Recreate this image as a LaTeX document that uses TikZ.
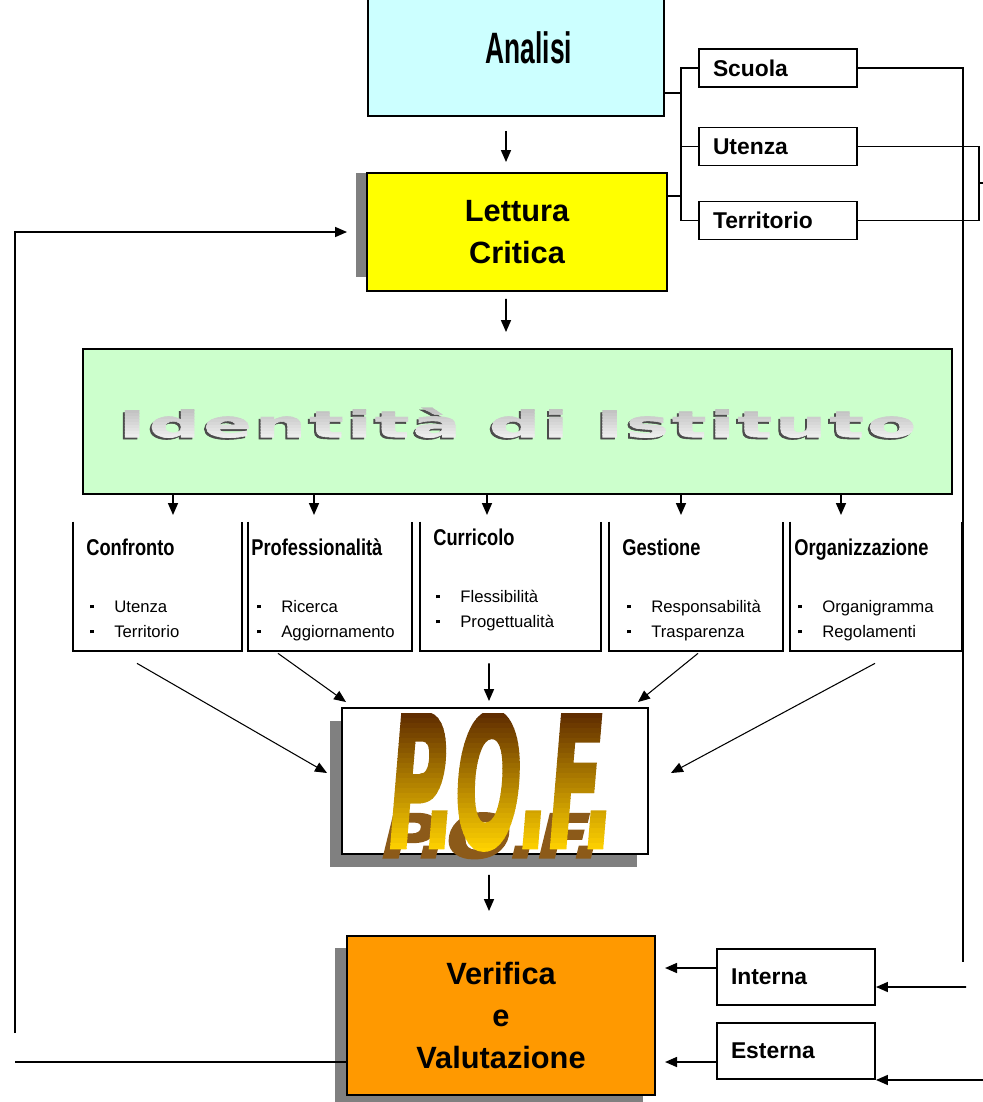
\documentclass[tikz,border=0pt]{standalone}
\usepackage{fontspec}
\setmainfont{Liberation Sans}
\newfontfamily\narrowfont{Liberation Sans}[FakeStretch=0.6]
\newfontfamily\titlefont{Liberation Sans}[FakeStretch=0.8]
\newfontfamily\widefont{DejaVu Sans}[LetterSpace=5, FakeBold=1.5]
\newfontfamily\poffont{DejaVu Sans}[FakeBold=2.5]
\usepackage{graphicx}
\usetikzlibrary{positioning}
\usetikzlibrary{arrows.meta}

\definecolor{analisiblu}{RGB}{204,255,255}
\definecolor{letturagiallo}{RGB}{255,255,0}
\definecolor{identverde}{RGB}{204,255,204}
\definecolor{verificaarancio}{RGB}{255,153,0}
\definecolor{ombra}{RGB}{128,128,128}
\definecolor{pofscuro}{RGB}{96,45,0}
\definecolor{pofchiaro}{RGB}{255,210,0}
\definecolor{pofriflesso}{RGB}{140,90,25}

\newcommand{\itm}{\makebox[4.8mm][l]{\rule[2pt]{1.8pt}{1.8pt}}}
\newcommand{\idtext}{\resizebox{159.4mm}{5.8mm}{\widefont\bfseries Identità di Istituto}}
\newcommand{\poftext}{\poffont\bfseries\itshape P.O.F.}

\tikzset{
  linea/.style={line width=0.9pt},
  freccia/.style={linea, ->},
  diagonale/.style={line width=0.6pt, ->},
  bordo/.style={draw, line width=1.1pt, inner sep=0pt},
  sidebox/.style={bordo, fill=white, minimum width=31.6mm, minimum height=7.6mm,
    text width=26mm, align=left, font=\bfseries\fontsize{13}{15}\selectfont},
  colonna/.style={inner sep=0pt, minimum height=25.8mm},
  titolo/.style={anchor=base west, inner sep=0pt, font=\titlefont\bfseries\fontsize{13}{15}\selectfont},
  voce/.style={anchor=base west, inner sep=0pt, font=\fontsize{9.5}{11}\selectfont}
}

\begin{document}
\begin{tikzpicture}[x=0.2mm, y=-0.2mm, >={Triangle[length=2.4mm,width=2mm]}]

\useasboundingbox (0,0) rectangle (983,1102);

% ombre
\fill[ombra] (356,173) rectangle (367,277);
\fill[ombra] (330,721) rectangle (637,867);
\fill[ombra] (335,948) rectangle (643,1102);

% analisi e lettura
\node[bordo, fill=analisiblu, minimum width=59.2mm, minimum height=24.8mm] (analisi) at (516,54) {};
\node[font=\narrowfont\bfseries\fontsize{25}{30}\selectfont] (analisitesto) at (529,48) {Analisi};
\node[bordo, fill=letturagiallo, minimum width=60mm, minimum height=23.6mm, align=center,
  font=\bfseries\fontsize{17.5}{24}\selectfont] (lettura) at (517,232) {Lettura\\Critica};

\node[sidebox] (scuola) at (778,68) {Scuola};
\node[sidebox] (utenza) at (778,146.5) {Utenza};
\node[sidebox] (territorio) at (778,220.5) {Territorio};

\draw[linea] (analisi.east |- 0,93) -- (681,93);
\draw[linea] (lettura.east |- 0,196) -- (681,196);
\draw[linea] (scuola.west) -| (681,220.5) -- (territorio.west);
\draw[linea] (utenza.west) -- (utenza.west -| 681,0);
\draw[linea] (scuola.east) -| (963,962);
\draw[linea] (utenza.east) -| (979,183) |- (territorio.east);
\draw[linea] (979,183) -- (983,183);

\draw[freccia] ([xshift=-2mm, yshift=-2.8mm]analisi.south) -- ([xshift=-2.2mm, yshift=2mm]lettura.north);

% identita
\node[bordo, fill=identverde, minimum width=173.8mm, minimum height=29mm] (identita) at (517.5,421.5) {};
\draw[freccia] ([xshift=-2.2mm, yshift=-1.4mm]lettura.south) -- ([xshift=-2.3mm, yshift=3.2mm]identita.north);
\node[inner sep=0pt, anchor=base, text=gray!60!black] (idombra) at (515.5,439) {\idtext};
\foreach \i in {0,...,11} {
  \pgfmathtruncatemacro{\p}{55-4*\i}
  \begin{scope}
    \clip (100,404+3*\i) rectangle (940,407.5+3*\i);
    \node[inner sep=0pt, anchor=base, text=gray!\p] (idtesto\i) at (517.5,437) {\idtext};
  \end{scope}
}

% colonne
\node[colonna, minimum width=33.8mm] (conf) at (157.5,586.5) {};
\node[colonna, minimum width=32.8mm] (prof) at (330,586.5) {};
\node[colonna, minimum width=36.2mm] (curr) at (510.5,586.5) {};
\node[colonna, minimum width=34.8mm] (gest) at (696,586.5) {};
\node[colonna, minimum width=34.4mm] (orga) at (876,586.5) {};
\foreach \n in {conf,prof,curr,gest,orga}
  \draw[line width=1.1pt] (\n.north west) |- (\n.south east) -- (\n.north east);
\foreach \x in {173,314,487,681,841}
  \draw[freccia] (identita.south -| \x,0) -- (\x,515);

\node[titolo] (conftit) at (86,555) {Confronto};
\node[titolo] (proftit) at (251,555) {Professionalità};
\node[titolo] (currtit) at (433,545) {Curricolo};
\node[titolo] (gesttit) at (622,555) {Gestione};
\node[titolo] (orgatit) at (794,555) {Organizzazione};

\node[voce] (conf1) at (90,612) {\itm Utenza};
\node[voce] (conf2) at (90,637) {\itm Territorio};
\node[voce] (prof1) at (257,612) {\itm Ricerca};
\node[voce] (prof2) at (257,637) {\itm Aggiornamento};
\node[voce] (curr1) at (436,602) {\itm Flessibilità};
\node[voce] (curr2) at (436,627) {\itm Progettualità};
\node[voce] (gest1) at (627,612) {\itm Responsabilità};
\node[voce] (gest2) at (627,637) {\itm Trasparenza};
\node[voce] (orga1) at (798,612) {\itm Organigramma};
\node[voce] (orga2) at (798,637) {\itm Regolamenti};

% pof
\node[bordo, fill=white, minimum width=61.2mm, minimum height=29.2mm] (pof) at (495,781) {};
\node[inner sep=0pt, anchor=south, text=pofriflesso] (pofombra) at (492,859) {\resizebox{44mm}{9mm}{\poftext}};
\foreach \i in {0,...,27} {
  \pgfmathtruncatemacro{\p}{100-\i*100/27}
  \begin{scope}
    \clip (370,713+5*\i) rectangle (640,718.5+5*\i);
    \node[inner sep=0pt, anchor=south, text=pofscuro!\p!pofchiaro] (poftesto\i) at (502,850) {\resizebox{45mm}{27mm}{\poftext}};
  \end{scope}
}

\draw[diagonale] ([xshift=-4.1mm, yshift=-2.4mm]conf.south) -- ([xshift=-2.8mm, yshift=1.6mm]pof.west);
\draw[diagonale] ([xshift=-10.4mm, yshift=-0.4mm]prof.south) -- ([xshift=1mm, yshift=1mm]pof.north west);
\draw[freccia] ([xshift=-4.3mm, yshift=-2.4mm]curr.south) -- ([xshift=-1.2mm, yshift=1.2mm]pof.north);
\draw[diagonale] ([xshift=0.4mm, yshift=-0.4mm]gest.south) -- ([xshift=-2.2mm, yshift=1mm]pof.north east);
\draw[diagonale] ([xshift=-0.2mm, yshift=-2.4mm]orga.south) -- ([xshift=4.4mm, yshift=1.6mm]pof.east);

% verifica
\node[bordo, fill=verificaarancio, minimum width=61.6mm, minimum height=31.8mm, align=center,
  font=\bfseries\fontsize{17.5}{24}\selectfont] (verifica) at (501,1015.5) {Verifica\\e\\Valutazione};
\draw[freccia] ([xshift=-1.2mm, yshift=-4mm]pof.south) -- ([xshift=-2.4mm, yshift=4.8mm]verifica.north);

\node[sidebox, minimum height=11.2mm] (interna) at (796,977) {Interna};
\node[sidebox, minimum height=11.2mm] (esterna) at (796,1051) {Esterna};
\draw[freccia] ([yshift=1.8mm]interna.west) -- ++(-51,0);
\draw[freccia] ([yshift=-2.2mm]esterna.west) -- ++(-51,0);

\coordinate (ritornoint) at (966,987);
\coordinate (ritornoest) at (983,1080);
\draw[freccia] (ritornoint) -- ([yshift=-2mm]interna.east);
\draw[freccia] (ritornoest) -- (esterna.south east);

% retroazione
\draw[linea] ([yshift=-9.3mm]verifica.west) -- (15,1062);
\draw[freccia] (15,1033) |- ([xshift=-3.8mm]lettura.west);

\end{tikzpicture}
\end{document}
